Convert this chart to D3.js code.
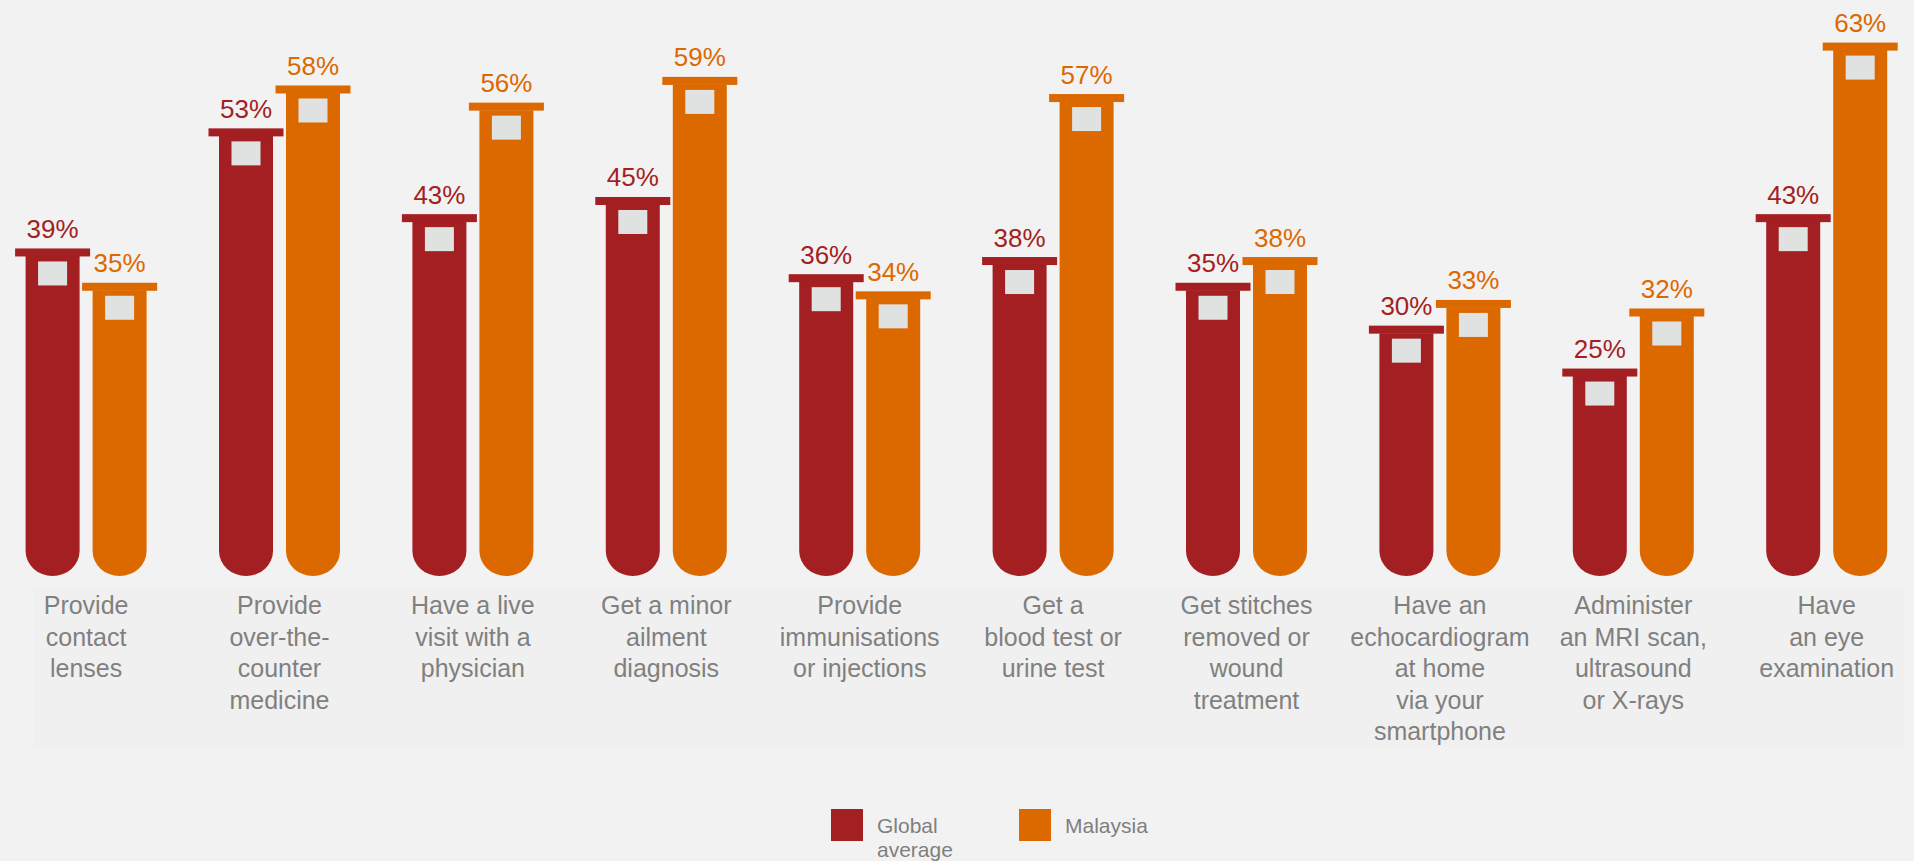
<!DOCTYPE html>
<html>
<head>
<meta charset="utf-8">
<script src="https://cdnjs.cloudflare.com/ajax/libs/d3/7.8.5/d3.min.js"></script>
<style>
  html, body { margin: 0; padding: 0; background: #f2f2f2; overflow: hidden; }
  svg { display: block; }
  text { font-family: "Liberation Sans", Arial, sans-serif; }
</style>
</head>
<body>
<svg id="chart" width="1914" height="861"></svg>
<script>
const categories = [
  "Provide contact lenses",
  "Provide over-the-counter medicine",
  "Have a live visit with a physician",
  "Get a minor ailment diagnosis",
  "Provide immunisations or injections",
  "Get a blood test or urine test",
  "Get stitches removed or wound treatment",
  "Have an echocardiogram at home via your smartphone",
  "Administer an MRI scan, ultrasound or X-rays",
  "Have an eye examination"
];
const categoryLines = [
  ["Provide", "contact", "lenses"],
  ["Provide", "over-the-", "counter", "medicine"],
  ["Have a live", "visit with a", "physician"],
  ["Get a minor", "ailment", "diagnosis"],
  ["Provide", "immunisations", "or injections"],
  ["Get a", "blood test or", "urine test"],
  ["Get stitches", "removed or", "wound", "treatment"],
  ["Have an", "echocardiogram", "at home", "via your", "smartphone"],
  ["Administer", "an MRI scan,", "ultrasound", "or X-rays"],
  ["Have", "an eye", "examination"]
];
const seriesNames = ["Global average", "Malaysia"];
const globalAverage = [39, 53, 43, 45, 36, 38, 35, 30, 25, 43];
const malaysia = [35, 58, 56, 59, 34, 57, 38, 33, 32, 63];
const seriesColors = ["#a31f22", "#dc6900"];

const svg = d3.select("#chart");

const x = d3.scaleBand().domain(categories).range([-10.6, 1923.4]);
const xs = d3.scaleBand().domain(seriesNames).range([-67, 67]);
const y = d3.scaleLinear().domain([0, 68]).range([583, 583 - 68 * 8.578]);
const color = d3.scaleOrdinal().domain(seriesNames).range(seriesColors);

const bottomY = 576;
const bodyW = 54, capW = 75, capH = 8;
const rx = 27, ry = 25;

// label background
svg.append("rect")
  .attr("x", 34).attr("y", 588).attr("width", 1870).attr("height", 159)
  .attr("fill", "#f0f0f0");

const data = [];
categories.forEach((c, i) => {
  [globalAverage[i], malaysia[i]].forEach((v, j) => {
    data.push({ cat: c, series: seriesNames[j], value: v });
  });
});

const g = svg.append("g");
const bars = g.selectAll("g.bar").data(data).enter().append("g").attr("class", "bar");

const cxOf = d => x(d.cat) + x.bandwidth() / 2 + xs(d.series) + xs.bandwidth() / 2;

bars.append("path")
  .attr("fill", d => color(d.series))
  .attr("d", d => {
    const cx = cxOf(d);
    const l = cx - bodyW / 2, r = cx + bodyW / 2;
    const top = y(d.value) + capH - 0.5;
    return `M${l},${top} L${r},${top} L${r},${bottomY - ry} A${rx},${ry} 0 0 1 ${l},${bottomY - ry} Z`;
  });

bars.append("rect")
  .attr("fill", d => color(d.series))
  .attr("x", d => cxOf(d) - capW / 2)
  .attr("y", d => y(d.value))
  .attr("width", capW)
  .attr("height", capH);

bars.append("rect")
  .attr("fill", "#e0e2e2")
  .attr("x", d => cxOf(d) - 14.5)
  .attr("y", d => y(d.value) + 13)
  .attr("width", 29)
  .attr("height", 24);

bars.append("text")
  .attr("x", d => cxOf(d))
  .attr("y", d => y(d.value) - 10.5)
  .attr("text-anchor", "middle")
  .attr("font-size", 26)
  .attr("fill", d => color(d.series))
  .text(d => d.value + "%");

// category labels
const labels = svg.append("g").selectAll("text").data(categories).enter().append("text")
  .attr("x", d => x(d) + x.bandwidth() / 2)
  .attr("y", 614)
  .attr("text-anchor", "middle")
  .attr("font-size", 25)
  .attr("fill", "#808080");
labels.each(function(d, i) {
  const t = d3.select(this);
  categoryLines[i].forEach((ln, k) => {
    t.append("tspan").attr("x", x(d) + x.bandwidth() / 2).attr("y", 614 + k * 31.6).text(ln);
  });
});

// legend
const legendX = [831, 1019];
const legendLines = [["Global", "average"], ["Malaysia"]];
const lg = svg.append("g").selectAll("g").data(seriesNames).enter().append("g");
lg.append("rect")
  .attr("x", (d, i) => legendX[i]).attr("y", 809)
  .attr("width", 32).attr("height", 32)
  .attr("fill", d => color(d));
lg.append("text")
  .attr("font-size", 21)
  .attr("fill", "#7f7f7f")
  .each(function(d, i) {
    const t = d3.select(this);
    legendLines[i].forEach((ln, k) => {
      t.append("tspan").attr("x", legendX[i] + 46).attr("y", 833 + k * 23.5).text(ln);
    });
  });
</script>
</body>
</html>
